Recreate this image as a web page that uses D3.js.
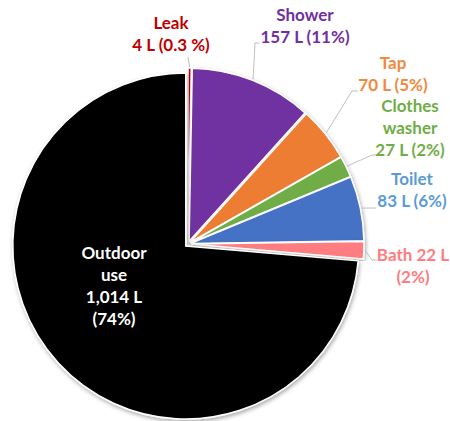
<!DOCTYPE html>
<html>
<head>
<meta charset="utf-8">
<script src="https://cdn.jsdelivr.net/npm/d3@7"></script>
<style>
  body { margin: 0; background: #fff; }
  text { font-family: Lato, "Open Sans", sans-serif; font-weight: bold; }
</style>
</head>
<body>
<script>
// daily household water use, litres (clockwise from 12 o'clock)
var categories = ["Leak", "Shower", "Tap", "Clothes washer", "Toilet", "Bath", "Outdoor use"];
var litres = [4, 157, 70, 27, 83, 22, 1014];
var percents = ["0.3 %", "11%", "5%", "2%", "6%", "2%", "74%"];

var width = 450, height = 421;
var cx = 188, cy = 244, r = 173, explode = 3;

var fills = ["#c00000", "#7030a0", "#ed7d31", "#70ad47", "#4472c4", "#ff7c80", "#000000"];
var labelColors = ["#c00000", "#7030a0", "#f08a3e", "#70ad47", "#5b9bd5", "#ff7c80", "#ffffff"];

// label placement: centre x, first baseline, text lines, leader bend points
var labelLayout = [
  {x: 171, y: 29, lines: (v, p) => ["Leak", v + " L (" + p + ")"], leader: [[188, 57]]},
  {x: 305, y: 21, lines: (v, p) => ["Shower", v + " L (" + p + ")"], leader: [[255, 43], [259, 43]]},
  {x: 393, y: 69, lines: (v, p) => ["Tap", v + " L (" + p + ")"], leader: [[352, 91], [358, 91]]},
  {x: 410, y: 112, lines: (v, p) => ["Clothes", "washer", v + " L (" + p + ")"], leader: [[372, 155], [380, 155]]},
  {x: 412, y: 185, lines: (v, p) => ["Toilet", v + " L (" + p + ")"], leader: [[376, 208]]},
  {x: 413, y: 261, lines: (v, p) => ["Bath " + v + " L", "(" + p + ")"], leader: [[372, 260], [377, 260]]},
  {x: 114, y: 259, lines: (v, p) => ["Outdoor", "use", v + " L", "(" + p + ")"], leader: null}
];

var svg = d3.select("body").append("svg").attr("width", width).attr("height", height);

var defs = svg.append("defs");
defs.append("filter").attr("id", "shadow")
    .attr("x", "-10%").attr("y", "-10%").attr("width", "120%").attr("height", "120%")
  .append("feDropShadow")
    .attr("dx", 1).attr("dy", 2).attr("stdDeviation", 2)
    .attr("flood-color", "#000").attr("flood-opacity", 0.35);

var pie = d3.pie().sort(null).value(d => d.v);
var arcs = pie(litres.map((v, i) => ({v: v, i: i, name: categories[i]})));

var arc = d3.arc().innerRadius(0).outerRadius(r);

function offset(d) {
  var a = (d.startAngle + d.endAngle) / 2;
  return [Math.sin(a) * explode, -Math.cos(a) * explode];
}

var g = svg.append("g").attr("transform", "translate(" + cx + "," + cy + ")");

g.selectAll("path.slice").data(arcs).enter().append("path")
    .attr("class", "slice")
    .attr("d", arc)
    .attr("transform", d => "translate(" + offset(d) + ")")
    .attr("fill", (d, i) => fills[i])
    .attr("stroke", "#fff")
    .attr("stroke-width", 1.5)
    .attr("filter", "url(#shadow)");

// leader lines from mid-angle of each slice's rim to its label
var line = d3.line();
svg.selectAll("path.leader").data(arcs.filter((d, i) => labelLayout[i].leader)).enter().append("path")
    .attr("class", "leader")
    .attr("d", function (d) {
      var a = (d.startAngle + d.endAngle) / 2, o = offset(d);
      var start = [cx + o[0] + Math.sin(a) * (r + 1), cy + o[1] - Math.cos(a) * (r + 1)];
      return line([start].concat(labelLayout[d.index].leader));
    })
    .attr("fill", "none")
    .attr("stroke", "#bfbfbf")
    .attr("stroke-width", 1);

var fmt = d3.format(",");
arcs.forEach(function (d, i) {
  var L = labelLayout[i];
  var t = svg.append("text")
      .attr("x", L.x).attr("y", L.y)
      .attr("text-anchor", "middle")
      .attr("font-size", 17)
      .attr("fill", labelColors[i]);
  L.lines(fmt(litres[i]), percents[i]).forEach(function (s, j) {
    t.append("tspan").attr("x", L.x).attr("y", L.y + j * 22).text(s);
  });
});
</script>
</body>
</html>
